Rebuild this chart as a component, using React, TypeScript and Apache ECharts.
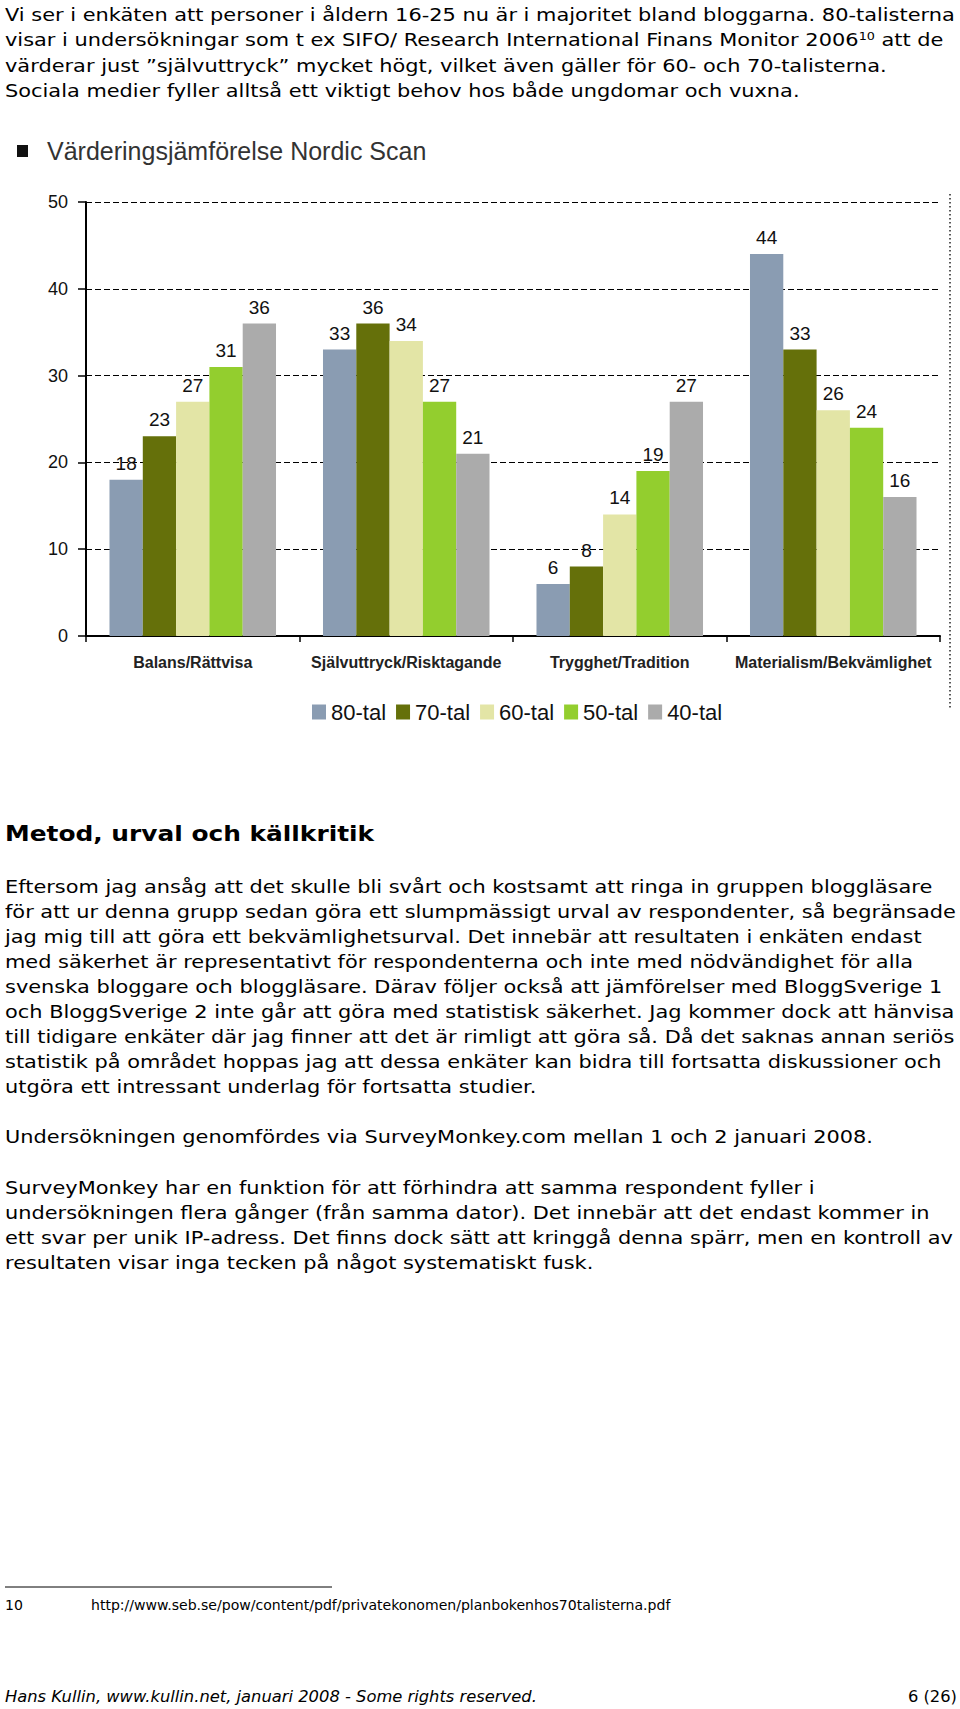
import React, { useEffect, useRef } from "react";
import * as echarts from "echarts";

const categories = [
  "Balans/Rättvisa",
  "Självuttryck/Risktagande",
  "Trygghet/Tradition",
  "Materialism/Bekvämlighet",
];
const seriesNames = ["80-tal", "70-tal", "60-tal", "50-tal", "40-tal"];
const tal80 = [18, 33, 6, 44];
const tal70 = [23, 36, 8, 33];
const tal60 = [27, 34, 14, 26];
const tal50 = [31, 27, 19, 24];
const tal40 = [36, 21, 27, 16];
const seriesColors = ["#8A9CB2", "#65700A", "#E3E5A6", "#93CE2E", "#ABABAB"];

const introLines = [
  "Vi ser i enkäten att personer i åldern 16-25 nu är i majoritet bland bloggarna. 80-talisterna",
  "visar i undersökningar som t ex SIFO/ Research International Finans Monitor 2006{sup|10} att de",
  "värderar just ”självuttryck” mycket högt, vilket även gäller för 60- och 70-talisterna.",
  "Sociala medier fyller alltså ett viktigt behov hos både ungdomar och vuxna.",
];
const heading = "Metod, urval och källkritik";
const para1 = [
  "Eftersom jag ansåg att det skulle bli svårt och kostsamt att ringa in gruppen bloggläsare",
  "för att ur denna grupp sedan göra ett slumpmässigt urval av respondenter, så begränsade",
  "jag mig till att göra ett bekvämlighetsurval. Det innebär att resultaten i enkäten endast",
  "med säkerhet är representativt för respondenterna och inte med nödvändighet för alla",
  "svenska bloggare och bloggläsare. Därav följer också att jämförelser med BloggSverige 1",
  "och BloggSverige 2 inte går att göra med statistisk säkerhet. Jag kommer dock att hänvisa",
  "till tidigare enkäter där jag finner att det är rimligt att göra så. Då det saknas annan seriös",
  "statistik på området hoppas jag att dessa enkäter kan bidra till fortsatta diskussioner och",
  "utgöra ett intressant underlag för fortsatta studier.",
];
const para2 = ["Undersökningen genomfördes via SurveyMonkey.com mellan 1 och 2 januari 2008."];
const para3 = [
  "SurveyMonkey har en funktion för att förhindra att samma respondent fyller i",
  "undersökningen flera gånger (från samma dator). Det innebär att det endast kommer in",
  "ett svar per unik IP-adress. Det finns dock sätt att kringgå denna spärr, men en kontroll av",
  "resultaten visar inga tecken på något systematiskt fusk.",
];
const footnoteNum = "10";
const footnoteUrl = "http://www.seb.se/pow/content/pdf/privatekonomen/planbokenhos70talisterna.pdf";
const footerLeft = "Hans Kullin, www.kullin.net, januari 2008 - Some rights reserved.";
const footerRight = "6 (26)";
const chartTitle = "Värderingsjämförelse Nordic Scan";

const BODY_FONT = "'DejaVu Sans', Verdana, sans-serif";
const CHART_FONT = "'Liberation Sans', Arial, sans-serif";

function measure(text: string, font: string): number {
  const c = document.createElement("canvas").getContext("2d");
  if (!c) return 1;
  c.font = font;
  return c.measureText(text).width;
}

export default function App() {
  const ref = useRef<HTMLDivElement>(null);
  useEffect(() => {
    if (!ref.current) return;
    const chart = echarts.init(ref.current, null, { renderer: "svg" });

    const bodySize = 18;
    const bodyScale = 950 / measure(introLines[0], `${bodySize}px ${BODY_FONT}`);
    const headSize = 21;
    const headScale = 369 / measure(heading, `bold ${headSize}px ${BODY_FONT}`);
    const noteSize = 14;
    const noteScale = 580 / measure(footnoteUrl, `${noteSize}px ${BODY_FONT}`);
    const footSize = 16;
    const footScale = 532 / measure(footerLeft, `italic ${footSize}px ${BODY_FONT}`);

    const textEl = (
      text: string,
      x: number,
      y: number,
      size: number,
      scale: number,
      extra: any = {}
    ) => ({
      type: "text",
      x,
      y,
      scaleX: scale,
      style: {
        text,
        fill: "#000",
        fontSize: size,
        fontFamily: BODY_FONT,
        align: "left",
        verticalAlign: "middle",
        ...extra,
      },
    });

    const graphics: any[] = [];
    const introY = [15, 40, 66, 91];
    introLines.forEach((t, i) => {
      graphics.push(
        textEl(t, 5, introY[i], bodySize, bodyScale, {
          rich: {
            sup: { fontSize: 11, fontFamily: BODY_FONT, fill: "#000", verticalAlign: "top", padding: [0, 0, 8, 0] },
          },
        })
      );
    });
    graphics.push(textEl(heading, 5, 834, headSize, headScale, { fontWeight: "bold" }));
    para1.forEach((t, i) => graphics.push(textEl(t, 5, 887 + 25 * i, bodySize, bodyScale)));
    para2.forEach((t, i) => graphics.push(textEl(t, 5, 1137 + 25 * i, bodySize, bodyScale)));
    para3.forEach((t, i) => graphics.push(textEl(t, 5, 1188 + 25 * i, bodySize, bodyScale)));

    // footnote separator
    graphics.push({
      type: "line",
      shape: { x1: 5, y1: 1587, x2: 332, y2: 1587 },
      style: { stroke: "#000", lineWidth: 1 },
    });
    graphics.push(textEl(footnoteNum, 5, 1605, noteSize, noteScale));
    graphics.push(textEl(footnoteUrl, 91, 1605, noteSize, noteScale));
    graphics.push(textEl(footerLeft, 5, 1697, footSize, footScale, { fontStyle: "italic" }));
    graphics.push(textEl(footerRight, 957, 1697, footSize, footScale, { align: "right" }));

    // chart picture title
    graphics.push({
      type: "rect",
      shape: { x: 17, y: 145, width: 11, height: 12 },
      style: { fill: "#111" },
    });
    graphics.push({
      type: "text",
      x: 47,
      y: 151,
      style: {
        text: chartTitle,
        fill: "#333",
        fontSize: 25,
        fontFamily: CHART_FONT,
        align: "left",
        verticalAlign: "middle",
      },
    });
    // dotted frame edge at right
    graphics.push({
      type: "line",
      shape: { x1: 950, y1: 194, x2: 950, y2: 710 },
      style: { stroke: "#222", lineWidth: 1.5, lineDash: [1.5, 2.5] },
    });

    const data = [tal80, tal70, tal60, tal50, tal40];
    const series = seriesNames.map((name, i) => ({
      name,
      type: "bar",
      data: data[i],
      barGap: "0%",
      barCategoryGap: "22%",
      itemStyle: { color: seriesColors[i] },
      label: {
        show: true,
        position: "top",
        distance: 7,
        fontSize: 19,
        fontFamily: CHART_FONT,
        color: "#111",
      },
    }));

    chart.setOption({
      animation: false,
      backgroundColor: "#fff",
      grid: { left: 86, right: 20, top: 202, bottom: 1709 - 636, containLabel: false },
      legend: {
        data: seriesNames,
        left: 307,
        top: 696,
        icon: "rect",
        itemWidth: 14,
        itemHeight: 15,
        itemGap: 10,
        textStyle: { fontSize: 22, fontFamily: CHART_FONT, color: "#111" },
      },
      xAxis: {
        type: "category",
        data: categories,
        boundaryGap: true,
        axisLine: { lineStyle: { color: "#000", width: 2 } },
        axisTick: { show: true, length: 6, lineStyle: { color: "#000", width: 1.5 } },
        axisLabel: {
          margin: 18,
          fontSize: 16,
          fontWeight: "bold",
          fontFamily: CHART_FONT,
          color: "#222",
          interval: 0,
        },
      },
      yAxis: {
        type: "value",
        min: 0,
        max: 50,
        interval: 10,
        axisLine: { show: true, lineStyle: { color: "#000", width: 2 } },
        axisTick: { show: true, length: 8, lineStyle: { color: "#000", width: 1.5 } },
        axisLabel: { margin: 18, fontSize: 18, fontFamily: CHART_FONT, color: "#111" },
        splitLine: { show: true, lineStyle: { color: "#000", width: 1, type: [6, 3] } },
      },
      series,
      graphic: graphics,
    });
    return () => chart.dispose();
  }, []);
  return (
    <div
      ref={ref}
      style={{ position: "absolute", left: 0, top: 0, width: 960, height: 1709, background: "#fff" }}
    />
  );
}
